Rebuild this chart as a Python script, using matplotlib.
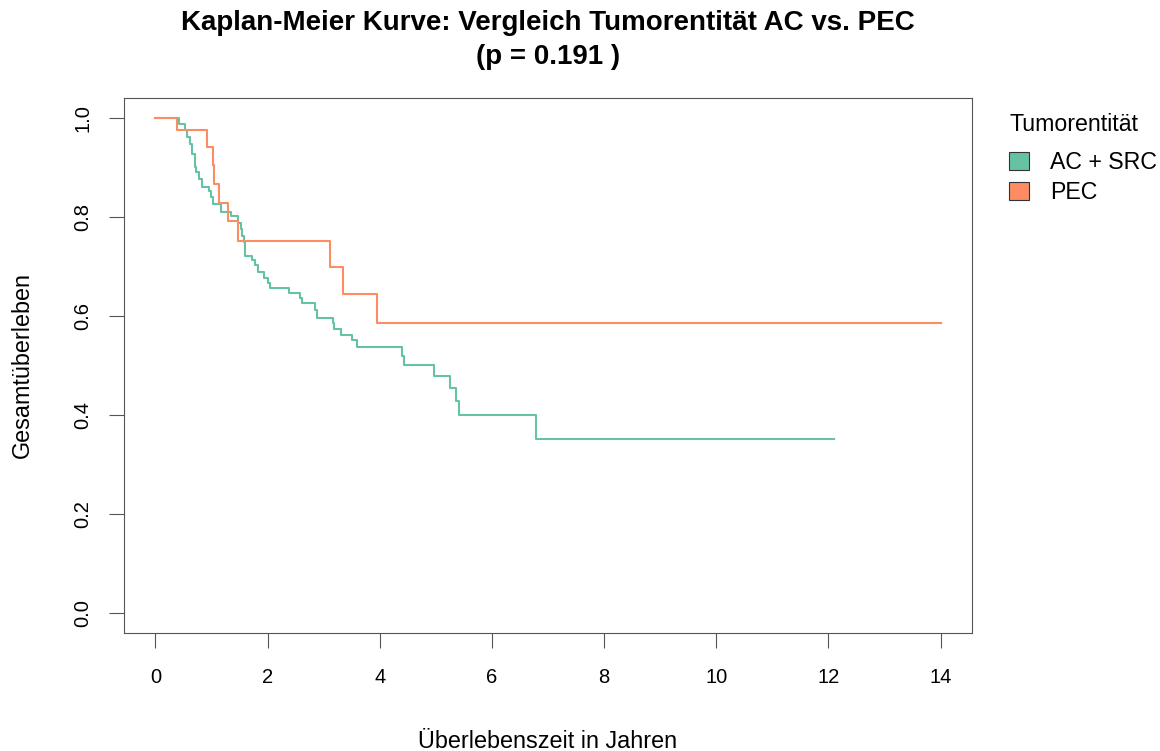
import matplotlib
matplotlib.use("Agg")
import matplotlib.pyplot as plt
from matplotlib.patches import Patch

plt.rcParams['font.family'] = ['Liberation Sans', 'DejaVu Sans']

# Kaplan-Meier Schätzer
ac_time = [0, 0.42, 0.52, 0.56, 0.61, 0.65, 0.70, 0.73, 0.77, 0.83, 0.95, 0.99,
           1.03, 1.17, 1.35, 1.47, 1.52, 1.54, 1.58, 1.60, 1.72, 1.78, 1.83,
           1.94, 2.00, 2.05, 2.38, 2.58, 2.62, 2.84, 2.88, 3.16, 3.19, 3.30,
           3.51, 3.60, 4.40, 4.43, 4.96, 5.26, 5.36, 5.42, 6.79, 12.1]
ac_surv = [1.0, 0.988, 0.975, 0.961, 0.947, 0.927, 0.900, 0.890, 0.877, 0.860,
           0.853, 0.840, 0.826, 0.810, 0.801, 0.788, 0.776, 0.762, 0.749,
           0.722, 0.712, 0.702, 0.688, 0.677, 0.667, 0.657, 0.647, 0.636,
           0.626, 0.612, 0.596, 0.585, 0.574, 0.562, 0.551, 0.538, 0.520,
           0.502, 0.479, 0.455, 0.428, 0.401, 0.352, 0.352]

pec_time = [0, 0.39, 0.92, 1.02, 1.05, 1.14, 1.29, 1.47, 3.12, 3.34, 3.95, 14.0]
pec_surv = [1.0, 0.976, 0.941, 0.904, 0.867, 0.828, 0.791, 0.751, 0.698,
            0.645, 0.586, 0.586]

groups = ["AC + SRC", "PEC"]
colors = ["#66C2A5", "#FC8D62"]
p_value = 0.191

fig = plt.figure(figsize=(11.6, 7.51), dpi=100)
ax = fig.add_axes([0.1069, 0.1571, 0.838 - 0.1069, 0.8695 - 0.1571])

ax.step(ac_time, ac_surv, where='post', color=colors[0], lw=1.5)
ax.step(pec_time, pec_surv, where='post', color=colors[1], lw=1.5)

ax.set_xlim(-0.56, 14.56)
ax.set_ylim(-0.04, 1.04)
ax.set_xticks(range(0, 15, 2))
ax.set_yticks([0.0, 0.2, 0.4, 0.6, 0.8, 1.0])
ax.set_yticklabels(["0.0", "0.2", "0.4", "0.6", "0.8", "1.0"], rotation=90, va='center')
ax.tick_params(direction='out', length=11, width=0.8, color='#555555',
               labelsize=14.5)
ax.tick_params(axis='x', pad=14)
ax.tick_params(axis='y', pad=12)
for s in ax.spines.values():
    s.set_color('#555555')
    s.set_linewidth(0.8)

fig.text(0.019, 0.5138, "Gesamtüberleben", rotation=90, ha='center', va='center', fontsize=16.8)
fig.text(0.4724, 0.0133, "Überlebenszeit in Jahren", ha='center', va='center', fontsize=16.8)

fig.text(0.4724, 0.969, "Kaplan-Meier Kurve: Vergleich Tumorentität AC vs. PEC",
         ha='center', va='center', fontsize=20, fontweight='bold')
fig.text(0.4724, 0.924, f"(p = {p_value} )", ha='center', va='center',
         fontsize=20, fontweight='bold')

handles = [Patch(facecolor=c, edgecolor='#333333', linewidth=0.8) for c in colors]
leg = fig.legend(handles, groups, title="Tumorentität", loc='upper left',
                 bbox_to_anchor=(0.862, 0.862), frameon=False, fontsize=16.7,
                 title_fontsize=16.7, handlelength=0.85, handleheight=0.85,
                 handletextpad=0.9, labelspacing=0.3, borderaxespad=0)
leg._legend_box.align = "left"
leg._legend_box.sep = 11

fig.savefig("out.png", dpi=100)
